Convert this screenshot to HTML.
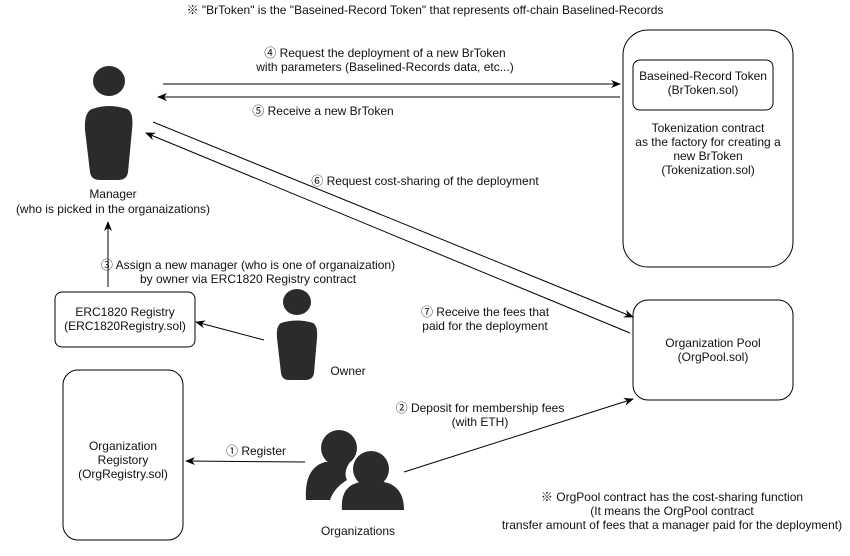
<!DOCTYPE html>
<html><head><meta charset="utf-8"><style>
body{margin:0;background:#fff;}
svg text{font-family:"Liberation Sans","Noto Sans CJK JP",sans-serif;font-size:12px;fill:#111;}
</style></head><body>
<svg width="850" height="551" viewBox="0 0 850 551" xmlns="http://www.w3.org/2000/svg">
<defs><marker id="a" markerWidth="10" markerHeight="8" refX="9" refY="4" orient="auto" markerUnits="userSpaceOnUse"><path d="M0,0 L10,4 L0,8 L3,4 z" fill="#000"/></marker></defs>
<g fill="none" stroke="#000" stroke-width="1">
<rect x="623" y="30" width="170" height="237" rx="25"/>
<rect x="633" y="60" width="140" height="50" rx="7"/>
<rect x="633" y="300" width="160" height="100" rx="15"/>
<rect x="55" y="292" width="140" height="55" rx="7"/>
<rect x="63" y="370" width="120" height="170" rx="15"/>
<line x1="163" y1="84" x2="620" y2="84" marker-end="url(#a)"/>
<line x1="620" y1="97" x2="158" y2="97" marker-end="url(#a)"/>
<line x1="153" y1="122" x2="633" y2="317" marker-end="url(#a)"/>
<line x1="630" y1="333" x2="146" y2="133" marker-end="url(#a)"/>
<line x1="108" y1="287" x2="108" y2="222" marker-end="url(#a)"/>
<line x1="264" y1="340" x2="196" y2="322" marker-end="url(#a)"/>
<line x1="305" y1="462" x2="186" y2="461" marker-end="url(#a)"/>
<line x1="404" y1="472" x2="633" y2="399" marker-end="url(#a)"/>
</g>
<g fill="#2b2b2b">
<ellipse cx="109" cy="81" rx="16" ry="15"/>
<path d="M92,109 Q109,103 127,109 Q134,112 132,130 L128,172 Q127,180 118,180 L100,180 Q91,180 90,172 L85,130 Q84,112 92,109z"/>
<ellipse cx="297" cy="302" rx="14" ry="13"/>
<path d="M281,323 Q297,318 313,323 Q318,326 317,338 L314,373 Q313,380 305,380 L289,380 Q282,380 281,373 L277,338 Q276,326 281,323z"/>
<circle cx="339" cy="448" r="18"/>
<path d="M306,500 Q304,468 325,462 L350,462 Q343,472 347,480 Q334,488 330,500z"/>
<circle cx="371" cy="469" r="18"/>
<path d="M342,510 Q340,486 360,482 L384,482 Q404,486 404,510z"/>
</g>
<g text-anchor="middle">
<text x="425" y="14">※ "BrToken" is the "Baseined-Record Token" that represents off-chain Baselined-Records</text>
<text x="385" y="57">④  Request the deployment of a new BrToken</text>
<text x="385" y="71">with parameters (Baselined-Records data, etc...)</text>
<text x="323" y="115">⑤  Receive a new BrToken</text>
<text x="703" y="80">Baseined-Record Token</text>
<text x="703" y="94">(BrToken.sol)</text>
<text x="708" y="132">Tokenization contract</text>
<text x="708" y="146">as the factory for creating a</text>
<text x="708" y="160">new BrToken</text>
<text x="708" y="174">(Tokenization.sol)</text>
<text x="425" y="185">⑥  Request cost-sharing of the deployment</text>
<text x="113" y="198">Manager</text>
<text x="113" y="213">(who is picked in the organaizations)</text>
<text x="248" y="269">③  Assign a new manager (who is one of organaization)</text>
<text x="248" y="283">by owner via ERC1820 Registry contract</text>
<text x="125" y="316">ERC1820 Registry</text>
<text x="125" y="330">(ERC1820Registry.sol)</text>
<text x="485" y="316">⑦  Receive the fees that</text>
<text x="485" y="330">paid for the deployment</text>
<text x="713" y="347">Organization Pool</text>
<text x="713" y="361">(OrgPool.sol)</text>
<text x="348" y="375">Owner</text>
<text x="480" y="412">②  Deposit for membership fees</text>
<text x="480" y="426">(with ETH)</text>
<text x="123" y="450">Organization</text>
<text x="123" y="464">Registory</text>
<text x="123" y="478">(OrgRegistry.sol)</text>
<text x="256" y="455">①  Register</text>
<text x="358" y="535">Organizations</text>
<text x="672" y="501">※ OrgPool contract has the cost-sharing function</text>
<text x="672" y="515">(It means the OrgPool contract</text>
<text x="672" y="529">transfer amount of fees that a manager paid for the deployment)</text>
</g>
</svg>
</body></html>
